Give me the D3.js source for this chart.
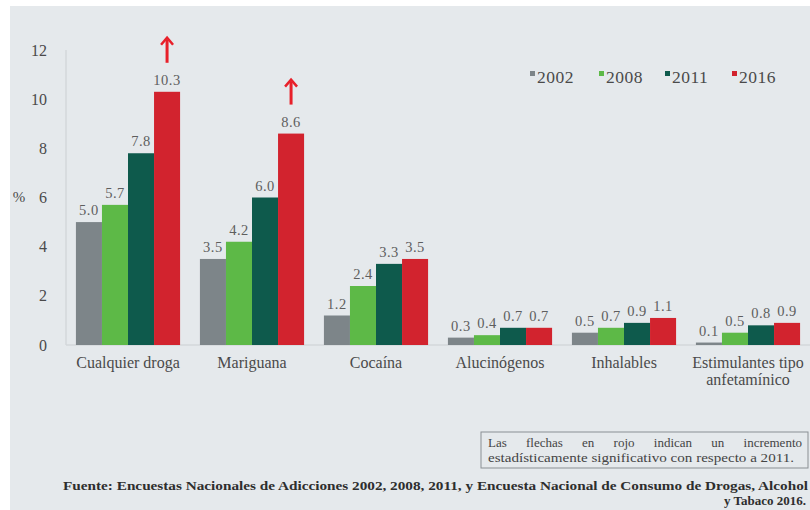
<!DOCTYPE html>
<html>
<head>
<meta charset="utf-8">
<script src="https://cdn.jsdelivr.net/npm/d3@7"></script>
<style>
  body { margin: 0; background: #ffffff; }
  svg { display: block; }
</style>
</head>
<body>
<svg id="chart" width="810" height="510" font-family="'Liberation Serif', 'DejaVu Serif', serif"></svg>
<script>
const categories = ["Cualquier droga", "Mariguana", "Cocaína", "Alucinógenos", "Inhalables", "Estimulantes tipo|anfetamínico"];
const years = ["2002", "2008", "2011", "2016"];
const v2002 = [5.0, 3.5, 1.2, 0.3, 0.5, 0.1];
const v2008 = [5.7, 4.2, 2.4, 0.4, 0.7, 0.5];
const v2011 = [7.8, 6.0, 3.3, 0.7, 0.9, 0.8];
const v2016 = [10.3, 8.6, 3.5, 0.7, 1.1, 0.9];
const yTicks = [0, 2, 4, 6, 8, 10, 12];
// categories with a significant increase vs 2011 (red arrow on 2016 bar)
const arrowCats = ["Cualquier droga", "Mariguana"];
const noteLines = ["Las flechas en rojo indican un incremento", "estadísticamente significativo con respecto a 2011."];
const sourceLines = ["Fuente: Encuestas Nacionales de Adicciones 2002, 2008, 2011, y Encuesta Nacional de Consumo de Drogas, Alcohol", "y Tabaco 2016."];

const colors = ["#7d8589", "#5db947", "#0e5a4c", "#d2232e"];
const series = [v2002, v2008, v2011, v2016];
const serif = "'Liberation Serif', 'DejaVu Serif', serif";

const svg = d3.select("#chart");

// background panel
svg.append("rect")
  .attr("x", 10).attr("y", 6)
  .attr("width", 800).attr("height", 504)
  .attr("fill", "#e5e9ec");

const x0 = d3.scaleBand().domain(categories).range([66, 810]).paddingInner(0.16).paddingOuter(0.08);
const x1 = d3.scaleBand().domain(years).range([0, x0.bandwidth()]);
const y = d3.scaleLinear().domain([0, 12]).range([345, 50]);

// axis lines
svg.append("line")
  .attr("x1", 66).attr("x2", 66)
  .attr("y1", y(12)).attr("y2", y(0))
  .attr("stroke", "#d3d7db").attr("stroke-width", 1.5);
svg.append("line")
  .attr("x1", 66).attr("x2", 810)
  .attr("y1", y(0)).attr("y2", y(0))
  .attr("stroke", "#d3d7db").attr("stroke-width", 1.5);

// y tick labels
const yAxis = d3.axisLeft(y).tickValues(yTicks).tickSize(0).tickPadding(0);
const yg = svg.append("g").attr("transform", "translate(47,0)").call(yAxis);
yg.attr("font-family", serif);
yg.select(".domain").remove();
yg.selectAll("text")
  .style("font-family", serif)
  .style("font-size", "16px")
  .attr("fill", "#4a4a4a");

svg.append("text")
  .attr("x", 19).attr("y", 202)
  .attr("text-anchor", "middle")
  .style("font-family", serif)
  .style("font-size", "15px")
  .attr("fill", "#4a4a4a")
  .text("%");

// bars
const groups = svg.append("g").selectAll("g")
  .data(categories)
  .join("g")
  .attr("transform", d => "translate(" + x0(d) + ",0)");

groups.selectAll("rect")
  .data((d, i) => years.map((yr, j) => ({ yr: yr, v: series[j][i], cat: d })))
  .join("rect")
  .attr("x", d => x1(d.yr))
  .attr("y", d => y(d.v))
  .attr("width", x1.bandwidth())
  .attr("height", d => y(0) - y(d.v))
  .attr("fill", (d, j) => colors[j]);

groups.selectAll("text.val")
  .data((d, i) => years.map((yr, j) => ({ yr: yr, v: series[j][i], cat: d })))
  .join("text")
  .attr("class", "val")
  .attr("x", d => x1(d.yr) + x1.bandwidth() / 2)
  .attr("y", d => y(d.v) - 7)
  .attr("text-anchor", "middle")
  .style("font-family", serif)
  .style("font-size", "14.5px")
  .style("letter-spacing", "0.5px")
  .attr("fill", "#5e5e5e")
  .text(d => d3.format(".1f")(d.v));

// red arrows
arrowCats.forEach(cat => {
  const i = categories.indexOf(cat);
  const cx = x0(cat) + x1("2016") + x1.bandwidth() / 2;
  const bottom = y(v2016[i]) - 29;
  const top = bottom - 25;
  svg.append("line")
    .attr("x1", cx).attr("x2", cx)
    .attr("y1", bottom).attr("y2", top + 2)
    .attr("stroke", "#e8202a").attr("stroke-width", 3);
  svg.append("path")
    .attr("d", "M" + (cx - 6) + "," + (top + 7) + " L" + cx + "," + top + " L" + (cx + 6) + "," + (top + 7))
    .attr("fill", "none")
    .attr("stroke", "#e8202a").attr("stroke-width", 2.5);
});

// category labels
const xl = svg.append("g");
categories.forEach(cat => {
  const t = xl.append("text")
    .attr("x", x0(cat) + x0.bandwidth() / 2)
    .attr("y", 368)
    .attr("text-anchor", "middle")
    .style("font-family", serif)
    .style("font-size", "16px")
    .attr("fill", "#4a4a4a");
  cat.split("|").forEach((part, k) => {
    t.append("tspan")
      .attr("x", x0(cat) + x0.bandwidth() / 2)
      .attr("dy", k === 0 ? 0 : 17)
      .text(part);
  });
});

// legend
const legendX = [530, 599, 665, 732];
const legend = svg.append("g");
years.forEach((yr, j) => {
  legend.append("rect")
    .attr("x", legendX[j]).attr("y", 71)
    .attr("width", 5).attr("height", 5)
    .attr("fill", colors[j]);
  legend.append("text")
    .attr("x", legendX[j] + 7).attr("y", 83)
    .style("font-family", serif)
    .style("font-size", "17.5px")
    .style("letter-spacing", "0.5px")
    .attr("fill", "#4a4a4a")
    .text(yr);
});

// note box
svg.append("rect")
  .attr("x", 481).attr("y", 432)
  .attr("width", 327).attr("height", 36)
  .attr("fill", "none")
  .attr("stroke", "#8a8f93").attr("stroke-width", 1);
// first line justified: measure words, then share the spare room between the gaps
const noteLeft = 488, noteRight = 802;
const words = noteLines[0].split(" ");
const wordNodes = words.map(w => svg.append("text")
  .attr("y", 447)
  .style("font-family", serif)
  .style("font-size", "13px")
  .attr("fill", "#444")
  .text(w));
const widths = wordNodes.map(n => n.node().getComputedTextLength());
const gap = (noteRight - noteLeft - d3.sum(widths)) / (words.length - 1);
let cursor = noteLeft;
wordNodes.forEach((n, k) => {
  n.attr("x", cursor);
  cursor += widths[k] + gap;
});
svg.append("text")
  .attr("x", noteLeft).attr("y", 462)
  .attr("textLength", 306).attr("lengthAdjust", "spacingAndGlyphs")
  .style("font-family", serif)
  .style("font-size", "13px")
  .attr("fill", "#444")
  .text(noteLines[1]);

// source
svg.append("text")
  .attr("x", 63).attr("y", 490)
  .attr("textLength", 745).attr("lengthAdjust", "spacingAndGlyphs")
  .style("font-family", serif)
  .style("font-size", "12.5px")
  .style("font-weight", "bold")
  .attr("fill", "#2e2e2e")
  .text(sourceLines[0]);
svg.append("text")
  .attr("x", 806).attr("y", 505)
  .attr("text-anchor", "end")
  .style("font-family", serif)
  .style("font-size", "13px")
  .style("font-weight", "bold")
  .attr("fill", "#2e2e2e")
  .text(sourceLines[1]);
</script>
</body>
</html>
